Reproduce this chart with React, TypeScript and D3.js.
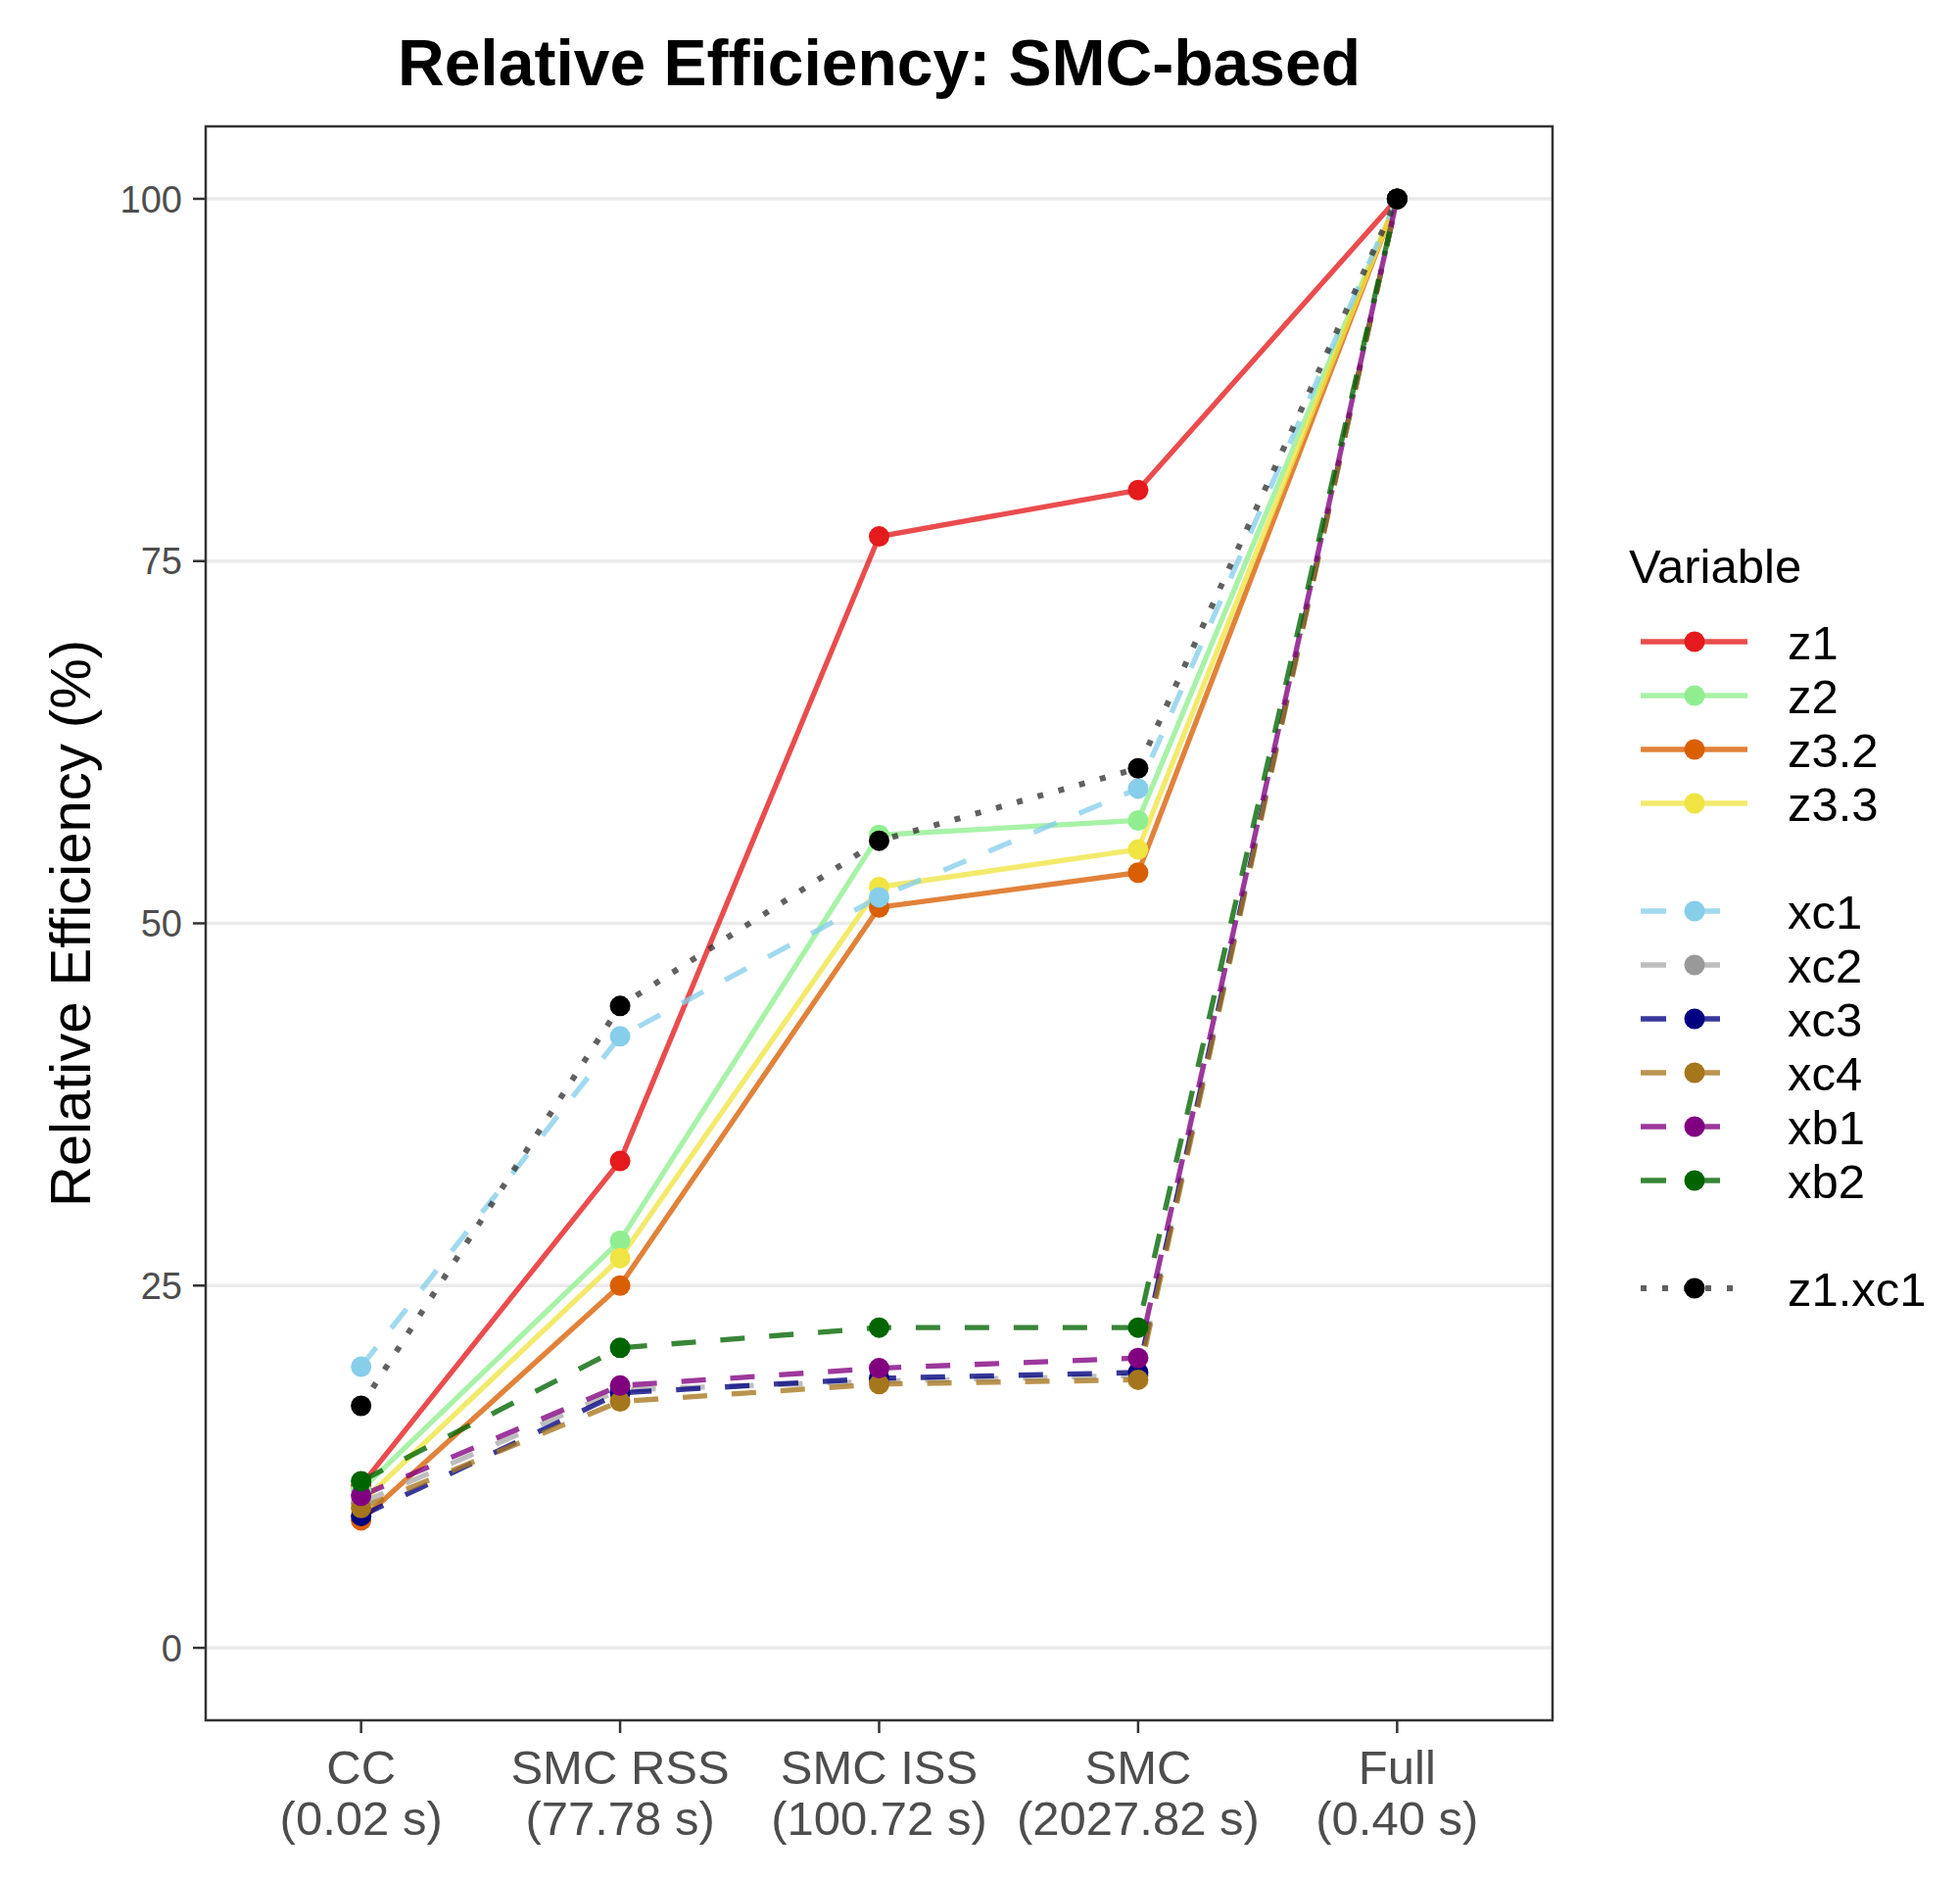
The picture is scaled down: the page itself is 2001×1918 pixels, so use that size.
import React, { useEffect, useRef } from 'react';
import * as d3 from 'd3';

// Methods on the x axis, with run times
const methods = ['CC', 'SMC RSS', 'SMC ISS', 'SMC', 'Full'];
const methodTimes = ['(0.02 s)', '(77.78 s)', '(100.72 s)', '(2027.82 s)', '(0.40 s)'];

// Variables (legend order)
const variables = ['z1', 'z2', 'z3.2', 'z3.3', 'xc1', 'xc2', 'xc3', 'xc4', 'xb1', 'xb2', 'z1.xc1'];
const pointColors = ['#e41a1c', '#90ee90', '#d95f02', '#f0e442', '#87ceeb', '#999999', '#000080', '#a6761d', '#800080', '#006400', '#000000'];
const lineColors = ['#e41a1c', '#90ee90', '#d95f02', '#f0e442', '#87ceeb', '#aaaaaa', '#000080', '#a6761d', '#800080', '#006400', '#333333'];
const lineTypes = ['solid', 'solid', 'solid', 'solid', 'dashed', 'dashed', 'dashed', 'dashed', 'dashed', 'dashed', 'dotted'];

// Relative efficiency (%) per variable, one value per method
const effZ1 = [11.2, 33.6, 76.7, 79.9, 100];
const effZ2 = [10.9, 28.1, 56.1, 57.1, 100];
const effZ32 = [8.8, 25.0, 51.1, 53.5, 100];
const effZ33 = [10.0, 26.9, 52.5, 55.1, 100];
const effXc1 = [19.4, 42.2, 51.8, 59.3, 100];
const effXc2 = [10.0, 17.8, 18.4, 18.8, 100];
const effXc3 = [9.1, 17.6, 18.6, 19.0, 100];
const effXc4 = [9.65, 17.0, 18.2, 18.5, 100];
const effXb1 = [10.5, 18.1, 19.3, 20.0, 100];
const effXb2 = [11.5, 20.7, 22.1, 22.1, 100];
const effZ1Xc1 = [16.7, 44.3, 55.7, 60.7, 100];
const efficiencies = [effZ1, effZ2, effZ32, effZ33, effXc1, effXc2, effXc3, effXc4, effXb1, effXb2, effZ1Xc1];

const yTicks = [0, 25, 50, 75, 100];

const W = 2001;
const H = 1918;
const FONT = 'Liberation Sans, Arial, Helvetica, sans-serif';

const dashFor = (t: string) => (t === 'dashed' ? '25,25' : t === 'dotted' ? '6,16' : null);

export default function App() {
  const svgRef = useRef<SVGSVGElement>(null);

  useEffect(() => {
    document.body.style.margin = '0';
    if (!svgRef.current) return;
    const svg = d3.select(svgRef.current);
    svg.selectAll('*').remove();

    const panel = { left: 210, right: 1585, top: 129, bottom: 1756 };

    const x = d3.scalePoint<string>().domain(methods).range([panel.left, panel.right]).padding(0.6);
    const y = d3.scaleLinear().domain([-5, 105]).range([panel.bottom, panel.top]);

    svg.append('rect').attr('width', W).attr('height', H).attr('fill', 'white');

    // Gridlines
    svg
      .append('g')
      .selectAll('line')
      .data(yTicks)
      .join('line')
      .attr('x1', panel.left)
      .attr('x2', panel.right)
      .attr('y1', d => y(d))
      .attr('y2', d => y(d))
      .attr('stroke', '#ebebeb')
      .attr('stroke-width', 3.5);

    // Lines (all first, then points, as ggplot does)
    const line = d3
      .line<number>()
      .x((_, i) => x(methods[i]) as number)
      .y(d => y(d));

    const gLines = svg.append('g');
    efficiencies.forEach((vals, k) => {
      gLines
        .append('path')
        .attr('d', line(vals))
        .attr('fill', 'none')
        .attr('stroke', lineColors[k])
        .attr('stroke-opacity', 0.78)
        .attr('stroke-width', lineTypes[k] === 'dotted' ? 6 : 5.3)
        .attr('stroke-dasharray', dashFor(lineTypes[k]))
        .attr('stroke-linecap', 'butt');
    });

    const gPts = svg.append('g');
    efficiencies.forEach((vals, k) => {
      gPts
        .selectAll(null)
        .data(vals)
        .join('circle')
        .attr('cx', (_, i) => x(methods[i]) as number)
        .attr('cy', d => y(d))
        .attr('r', 10.5)
        .attr('fill', pointColors[k]);
    });

    // Panel border
    svg
      .append('rect')
      .attr('x', panel.left)
      .attr('y', panel.top)
      .attr('width', panel.right - panel.left)
      .attr('height', panel.bottom - panel.top)
      .attr('fill', 'none')
      .attr('stroke', '#333333')
      .attr('stroke-width', 2.5);

    // Y axis ticks and labels
    const gy = svg.append('g');
    yTicks.forEach(t => {
      gy.append('line')
        .attr('x1', panel.left - 13)
        .attr('x2', panel.left)
        .attr('y1', y(t))
        .attr('y2', y(t))
        .attr('stroke', '#333333')
        .attr('stroke-width', 2.5);
      gy.append('text')
        .attr('x', panel.left - 24)
        .attr('y', y(t))
        .attr('dy', '0.36em')
        .attr('text-anchor', 'end')
        .attr('font-family', FONT)
        .attr('font-size', 38)
        .attr('fill', '#4d4d4d')
        .text(t);
    });

    // X axis ticks and labels
    const gx = svg.append('g');
    methods.forEach((m, i) => {
      const cx = x(m) as number;
      gx.append('line')
        .attr('x1', cx)
        .attr('x2', cx)
        .attr('y1', panel.bottom)
        .attr('y2', panel.bottom + 13)
        .attr('stroke', '#333333')
        .attr('stroke-width', 2.5);
      gx.append('text')
        .attr('x', cx)
        .attr('y', 1821)
        .attr('text-anchor', 'middle')
        .attr('font-family', FONT)
        .attr('font-size', 49)
        .attr('fill', '#4d4d4d')
        .text(m);
      gx.append('text')
        .attr('x', cx)
        .attr('y', 1873)
        .attr('text-anchor', 'middle')
        .attr('font-family', FONT)
        .attr('font-size', 49)
        .attr('fill', '#4d4d4d')
        .text(methodTimes[i]);
    });

    // Y axis title
    svg
      .append('text')
      .attr('transform', `translate(92, ${(panel.top + panel.bottom) / 2}) rotate(-90)`)
      .attr('text-anchor', 'middle')
      .attr('font-family', FONT)
      .attr('font-size', 58)
      .attr('fill', 'black')
      .text('Relative Efficiency (%)');

    // Title
    svg
      .append('text')
      .attr('x', (panel.left + panel.right) / 2)
      .attr('y', 87)
      .attr('text-anchor', 'middle')
      .attr('font-family', FONT)
      .attr('font-weight', 'bold')
      .attr('font-size', 66)
      .attr('fill', 'black')
      .text('Relative Efficiency: SMC-based');

    // Legend
    const lg = svg.append('g');
    lg.append('text')
      .attr('x', 1663)
      .attr('y', 595)
      .attr('font-family', FONT)
      .attr('font-size', 49)
      .attr('fill', 'black')
      .text('Variable');

    const rowIndex = [0, 1, 2, 3, 5, 6, 7, 8, 9, 10, 12];
    variables.forEach((v, k) => {
      const cy = 655 + rowIndex[k] * 55;
      lg.append('line')
        .attr('x1', 1675)
        .attr('x2', 1784)
        .attr('y1', cy)
        .attr('y2', cy)
        .attr('stroke', lineColors[k])
        .attr('stroke-opacity', 0.78)
        .attr('stroke-width', lineTypes[k] === 'dotted' ? 6 : 5.3)
        .attr('stroke-dasharray', lineTypes[k] === 'dashed' ? '26,29' : lineTypes[k] === 'dotted' ? '6,16' : null);
      lg.append('circle').attr('cx', 1730).attr('cy', cy).attr('r', 10.5).attr('fill', pointColors[k]);
      lg.append('text')
        .attr('x', 1825)
        .attr('y', cy)
        .attr('dy', '0.36em')
        .attr('font-family', FONT)
        .attr('font-size', 49)
        .attr('fill', 'black')
        .text(v);
    });
  }, []);

  return <svg ref={svgRef} width={W} height={H} style={{ display: 'block' }} />;
}
